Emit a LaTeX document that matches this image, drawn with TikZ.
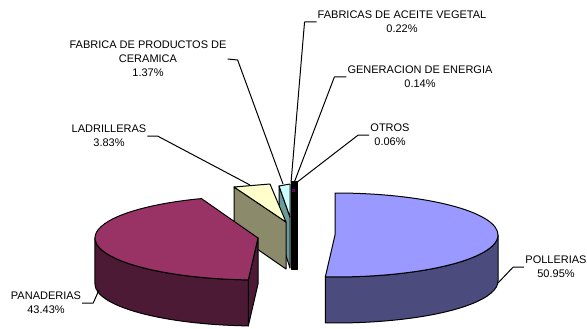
\documentclass[tikz,border=0pt]{standalone}
\usepackage{fontspec}
\setmainfont{Liberation Sans}
\definecolor{pollTop}{HTML}{9999FF}
\definecolor{pollSide}{HTML}{4B4B7E}
\definecolor{panTop}{HTML}{993366}
\definecolor{panSide}{HTML}{4C1A34}
\definecolor{ladTop}{HTML}{FFFFCC}
\definecolor{ladSide}{HTML}{8B8B6C}
\definecolor{cerTop}{HTML}{CCFFFF}
\definecolor{cerSide}{HTML}{6A9A9A}
\definecolor{genCol}{HTML}{660066}
\begin{document}
\begin{tikzpicture}[x=1pt,y=-1pt,
  lbl/.style={align=center,font=\fontsize{11}{14}\selectfont,inner sep=1pt},
  face/.style={draw=black,line width=1pt,line join=round},
  leader/.style={draw=black,line width=1pt,line join=round}]
\useasboundingbox (0,0) rectangle (587,329);

% small slices (OTROS, GENERACION, ACEITE)
\filldraw[face,fill=black] (291,181) -- (297,181) -- (297,269) -- (291,269) -- cycle;
\fill[genCol] (292.3,188.5) rectangle (294.5,191.5);

% CERAMICA slice
\filldraw[face,fill=cerSide] (279,186) -- (290,217) -- (290,268) -- (279,234) -- cycle;
\filldraw[face,fill=cerTop] (279,186) -- (290,184) -- (290,217) -- cycle;

% LADRILLERAS slice
\filldraw[face,fill=ladSide] (234,187) -- (286,222) -- (286,269) -- (234,233) -- cycle;
\filldraw[face,fill=ladTop] (234,187) -- (270,184) -- (286,222) -- cycle;

% PANADERIAS slice
\filldraw[face,fill=panSide] (258,238) -- (248.3,279.9) -- ++(0,46) -- (258,284) -- cycle;
\filldraw[face,fill=panSide] (248.3,279.9) arc[start angle=93.4,end angle=180,x radius=163,y radius=42]
  -- ++(0,46) arc[start angle=180,end angle=93.4,x radius=163,y radius=42] -- cycle;
\filldraw[face,fill=panTop] (258,238) -- (248.3,279.9)
  arc[start angle=93.4,end angle=249.7,x radius=163,y radius=42] -- cycle;

% POLLERIAS slice
\filldraw[face,fill=pollSide] (498,235) arc[start angle=0,end angle=93.4,x radius=163,y radius=42]
  -- ++(0,46) arc[start angle=93.4,end angle=0,x radius=163,y radius=42] -- cycle;
\filldraw[face,fill=pollTop] (335,235) -- (335,193)
  arc[start angle=-90,end angle=93.4,x radius=163,y radius=42] -- cycle;

% labels
\node[lbl] (ace) at (402,22) {FABRICAS DE ACEITE VEGETAL\\0.22\%};
\node[lbl] (gen) at (420,77) {GENERACION DE ENERGIA\\0.14\%};
\node[lbl] (otr) at (390,135) {OTROS\\0.06\%};
\node[lbl] (cer) at (148,59) {FABRICA DE PRODUCTOS DE\\CERAMICA\\1.37\%};
\node[lbl] (lad) at (109,136) {LADRILLERAS\\3.83\%};
\node[lbl] (pan) at (46,303) {PANADERIAS\\43.43\%};
\node[lbl] (pol) at (556,267) {POLLERIAS\\50.95\%};

% leader end points
\coordinate (eAce) at (291,183);
\coordinate (eGen) at (294,183);
\coordinate (eOtr) at (296,183);
\coordinate (eCer) at (283,184);
\coordinate (eLad) at (250,185);
\coordinate (ePan) at (99,290);
\coordinate (ePol) at (498,283);

\draw[leader] (ace.west) -- ++(-12,0) -- (eAce);
\draw[leader] (gen.west) -- ++(-12,0) -- (eGen);
\draw[leader] (otr.west) -- ++(-11,0) -- (eOtr);
\draw[leader] (cer.east) -- ++(10,1) -- (eCer);
\draw[leader] (lad.east) -- ++(10,0) -- (eLad);
\draw[leader] (pan.east) -- ++(11,0) -- (ePan);
\draw[leader] (pol.west) -- ++(-11,0) -- (ePol);
\end{tikzpicture}
\end{document}
